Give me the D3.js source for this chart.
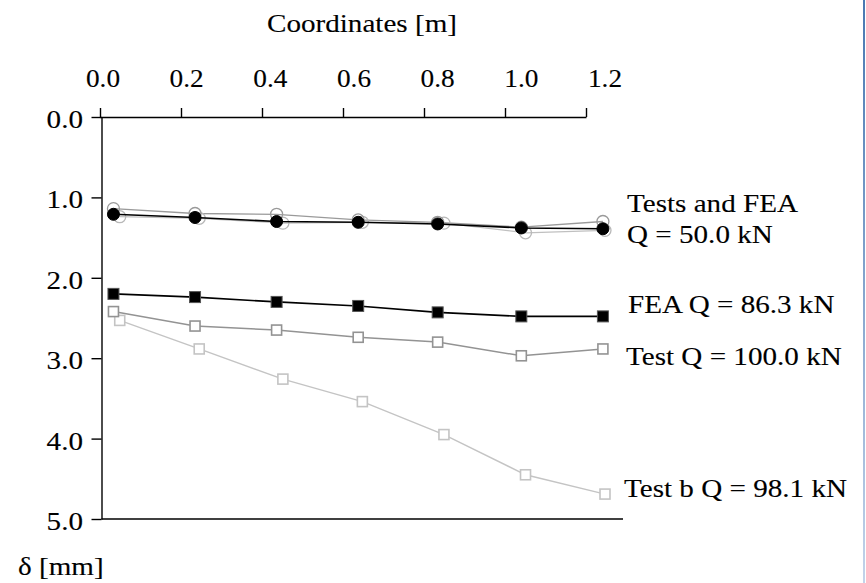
<!DOCTYPE html>
<html lang="en">
  <head>
    <meta charset="utf-8">
    <title>Deflection along coordinates</title>
    <script src="https://cdn.jsdelivr.net/npm/d3@7"></script>
    <style>
      body { margin: 0; background: #fff; }
      text { font-family: "Liberation Serif", "Times New Roman", serif; fill: #000; stroke: #000; stroke-width: 0.12px; }
    </style>
  </head>
  <body>
    <script>

      //Width and height
      var w = 866;
      var h = 583;

      //Tick values
      var xTicks = [0.0, 0.2, 0.4, 0.6, 0.8, 1.0, 1.2];
      var yTicks = [0.0, 1.0, 2.0, 3.0, 4.0, 5.0];

      //Measuring points [m]
      var coordA = [0.025, 0.22, 0.415, 0.61, 0.80, 1.0, 1.195];
      var coordB = [0.04, 0.23, 0.43, 0.62, 0.815, 1.01, 1.20];

      //Deflections [mm]
      var fea50   = [1.21, 1.25, 1.30, 1.31, 1.33, 1.38, 1.39];
      var test50  = [1.14, 1.20, 1.21, 1.28, 1.31, 1.37, 1.30];
      var test50b = [1.24, 1.26, 1.32, 1.31, 1.32, 1.44, 1.41];
      var fea86   = [2.20, 2.24, 2.30, 2.35, 2.43, 2.48, 2.48];
      var test100 = [2.42, 2.60, 2.65, 2.74, 2.80, 2.97, 2.885];
      var test98  = [2.53, 2.885, 3.26, 3.54, 3.95, 4.45, 4.69];

      //Series labels
      var labels = ["Tests and FEA", "Q = 50.0 kN", "FEA Q = 86.3 kN", "Test Q = 100.0 kN", "Test b Q = 98.1 kN"];

      //Text is drawn a bit wider than the font, like in the original figure
      var fs = 26;
      var sx = 1.12;

      //Scales
      var xScale = d3.scaleLinear().domain([0, 1.2]).range([103, 605]);
      var xTickScale = d3.scaleLinear().domain([0, 1.2]).range([100, 586]);
      var yScale = d3.scaleLinear().domain([0, 5]).range([117, 519]);

      var svg = d3.select("body")
            .append("svg")
            .attr("width", w)
            .attr("height", h);

      //helper for stretched text
      function addText(str, x, y, anchor, stretch) {
        return svg.append("text")
          .attr("transform", "translate(" + x + "," + y + ") scale(" + (stretch || sx) + ",1)")
          .attr("font-size", fs)
          .attr("text-anchor", anchor || "start")
          .text(str);
      }

      //Axes
      var xAxis = d3.axisTop(xTickScale)
                  .tickValues(xTicks)
                  .tickSize(9)
                  .tickSizeOuter(0)
                  .tickFormat("");

      var yAxis = d3.axisLeft(yScale)
                  .tickValues(yTicks)
                  .tickSize(10)
                  .tickSizeOuter(0)
                  .tickFormat("");

      svg.append("g")
        .attr("class", "axis")
        .attr("transform", "translate(0," + yScale(0) + ")")
        .call(xAxis);

      svg.append("g")
        .attr("class", "axis")
        .attr("transform", "translate(101.5,0)")
        .call(yAxis);

      //bottom border of the plot area
      svg.append("line")
        .attr("x1", 101.5).attr("x2", 623)
        .attr("y1", yScale(5)).attr("y2", yScale(5))
        .attr("stroke", "#000").attr("stroke-width", 1.4);

      svg.selectAll(".axis path, .axis line")
        .attr("stroke", "#000")
        .attr("stroke-width", 1.4);

      //Tick labels
      xTicks.forEach(function(t) {
        addText(t.toFixed(1), xScale(t), 87, "middle", 1.05);
      });
      yTicks.forEach(function(t) {
        addText(t.toFixed(1), 83, yScale(t) + 11, "end");
      });

      //Axis titles
      addText("Coordinates [m]", 362, 32, "middle");
      addText("\u03b4 [mm]", 18, 575, "start");

      //Series
      function drawLine(xs, ys, color, width) {
        var line = d3.line()
          .x(function(d, i) { return xScale(xs[i]); })
          .y(function(d) { return yScale(d); });
        svg.append("path")
          .datum(ys)
          .attr("fill", "none")
          .attr("stroke", color)
          .attr("stroke-width", width)
          .attr("d", line);
      }

      function drawCircles(xs, ys, fill, stroke, r, sw) {
        svg.append("g").selectAll("circle")
          .data(ys)
          .enter()
          .append("circle")
          .attr("cx", function(d, i) { return xScale(xs[i]); })
          .attr("cy", function(d) { return yScale(d); })
          .attr("r", r)
          .attr("fill", fill)
          .attr("stroke", stroke)
          .attr("stroke-width", sw);
      }

      function drawSquares(xs, ys, fill, stroke, s, sw) {
        svg.append("g").selectAll("rect")
          .data(ys)
          .enter()
          .append("rect")
          .attr("x", function(d, i) { return xScale(xs[i]) - s / 2; })
          .attr("y", function(d) { return yScale(d) - s / 2; })
          .attr("width", s)
          .attr("height", s)
          .attr("fill", fill)
          .attr("stroke", stroke)
          .attr("stroke-width", sw);
      }

      //Test b Q = 98.1 kN
      drawLine(coordB, test98, "#c4c4c4", 1.4);
      drawSquares(coordB, test98, "#fff", "#c4c4c4", 10, 1.6);

      //Test Q = 100 kN
      drawLine(coordA, test100, "#939393", 1.5);
      drawSquares(coordA, test100, "#fff", "#939393", 10, 1.6);

      //FEA Q = 86.3 kN
      drawLine(coordA, fea86, "#000", 1.6);
      drawSquares(coordA, fea86, "#000", "#555", 11, 1);

      //Q = 50 kN: tests (open) and FEA (filled)
      drawLine(coordB, test50b, "#c0c0c0", 1.3);
      drawLine(coordA, test50, "#9a9a9a", 1.3);
      drawCircles(coordB, test50b, "none", "#b8b8b8", 6, 1.3);
      drawCircles(coordA, test50, "none", "#9a9a9a", 6, 1.3);
      drawLine(coordA, fea50, "#000", 1.6);
      drawCircles(coordA, fea50, "#000", "#000", 6, 1);

      //Series labels
      addText(labels[0], 627, 212);
      addText(labels[1], 627, 243);
      addText(labels[2], 628, 313);
      addText(labels[3], 626, 365);
      addText(labels[4], 624, 497);

      //Frame edge on the right
      var grad = svg.append("defs").append("linearGradient")
        .attr("id", "edge")
        .attr("x1", 0).attr("y1", 0).attr("x2", 0).attr("y2", 1);
      grad.append("stop").attr("offset", "0%").attr("stop-color", "#4a78b2");
      grad.append("stop").attr("offset", "100%").attr("stop-color", "#c3d3ea");

      svg.append("rect")
        .attr("x", 863).attr("y", 0)
        .attr("width", 2).attr("height", h)
        .attr("fill", "url(#edge)");

    </script>
  </body>
</html>
